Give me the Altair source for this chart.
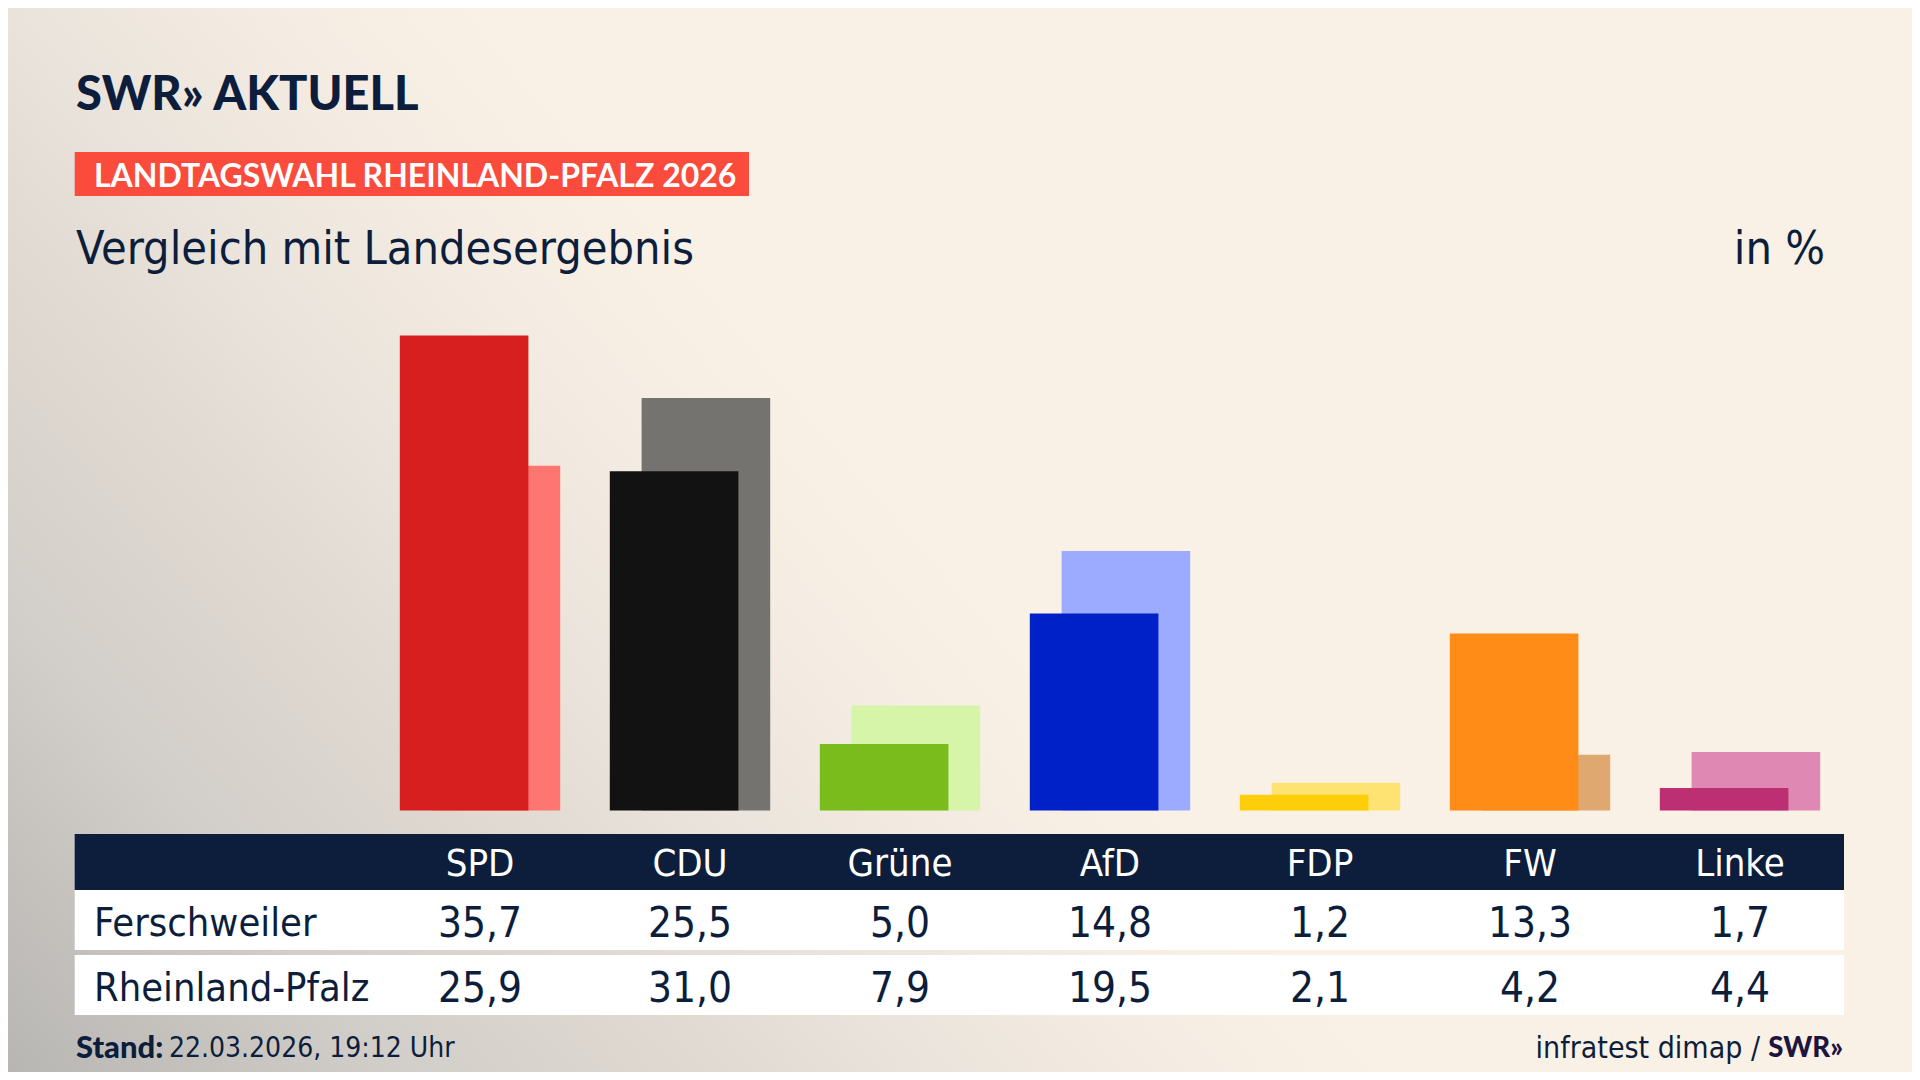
import altair as alt
import pandas as pd

# ---- data ----
parties = ["SPD", "CDU", "Grüne", "AfD", "FDP", "FW", "Linke"]
ferschweiler = [35.7, 25.5, 5.0, 14.8, 1.2, 13.3, 1.7]
rheinland_pfalz = [25.9, 31.0, 7.9, 19.5, 2.1, 4.2, 4.4]
dark_colors = ["#D71F1F", "#121212", "#79BC1C", "#0020C8", "#FFCE0A", "#FF8C16", "#BD2F73"]
light_colors = ["#FF7670", "#747370", "#D6F5A8", "#9CABFF", "#FFE372", "#DFA871", "#DF88B4"]
row_labels = ["Ferschweiler", "Rheinland-Pfalz"]

title_text = "SWR» AKTUELL"
banner_text = "LANDTAGSWAHL RHEINLAND-PFALZ 2026"
subtitle_text = "Vergleich mit Landesergebnis"
unit_text = "in %"
stand_label = "Stand:"
stand_text = "22.03.2026, 19:12 Uhr"
source_text = "infratest dimap /"
source_logo = "SWR»"


def de(v):
    return f"{v:.1f}".replace(".", ",")


df = pd.DataFrame({
    "party": parties,
    "fer": ferschweiler,
    "rlp": rheinland_pfalz,
    "fer_txt": [de(v) for v in ferschweiler],
    "rlp_txt": [de(v) for v in rheinland_pfalz],
    "dark": dark_colors,
    "light": light_colors,
})

FONT = "DejaVu Sans Condensed"
BOLD = "Lato"
NAVY = "#0C1E3C"
W, H = 1904, 1064

xscale = alt.Scale(domain=parties, range=[367, 1837], paddingInner=0, paddingOuter=0)
yscale = alt.Scale(domain=[0, 60], range=[802.6, 4])
X = alt.X("party:N", scale=xscale, axis=None)

base = alt.Chart(df)

# background
bg = alt.Chart(pd.DataFrame({"a": [0]})).mark_rect(
    color=alt.Gradient(
        gradient="linear",
        x1=0, y1=1, x2=0.9, y2=0.57,
        stops=[
            alt.GradientStop(color="#B8B6B3", offset=0),
            alt.GradientStop(color="#D2CEC9", offset=0.19),
            alt.GradientStop(color="#E2DBD3", offset=0.35),
            alt.GradientStop(color="#EAE3DB", offset=0.43),
            alt.GradientStop(color="#F4ECE2", offset=0.55),
            alt.GradientStop(color="#FAF1E6", offset=0.66),
            alt.GradientStop(color="#FAF1E6", offset=1),
        ],
    )
).encode(x=alt.value(0), x2=alt.value(W), y=alt.value(0), y2=alt.value(H))

light_bars = base.mark_bar(width=128.6, xOffset=15.9).encode(
    x=X, y=alt.Y("rlp:Q", scale=yscale, axis=None),
    color=alt.Color("light:N", scale=None),
)
dark_bars = base.mark_bar(width=128.6, xOffset=-15.9).encode(
    x=X, y=alt.Y("fer:Q", scale=yscale, axis=None),
    color=alt.Color("dark:N", scale=None),
)

# table frames
def box(x1, x2, y1, y2, color):
    return alt.Chart(pd.DataFrame({"a": [0]})).mark_rect(color=color).encode(
        x=alt.value(x1), x2=alt.value(x2), y=alt.value(y1), y2=alt.value(y2))

banner = box(66.7, 741, 144, 188, "#FA4B3C")
header = box(66.7, 1836, 826, 882, NAVY)
row1 = box(66.7, 1836, 882, 942, "#FFFFFF")
row2 = box(66.7, 1836, 947, 1007, "#FFFFFF")

def label(txt, x, y, size, weight="normal", color=NAVY, align="left", font=FONT):
    return alt.Chart(pd.DataFrame({"t": [txt]})).mark_text(
        font=font, fontSize=size, fontWeight=weight, color=color,
        align=align, baseline="middle").encode(
        x=alt.value(x), y=alt.value(y), text="t:N")

title = label(title_text, 68, 88, 47, 900, font=BOLD)
banner_lbl = label(banner_text, 86, 168.5, 32, "bold", "#FFFFFF", font=BOLD)
subtitle = label(subtitle_text, 68, 242, 46.5)
unit = label(unit_text, 1817, 242, 46.5, align="right")
rl1 = label(row_labels[0], 86, 915.5, 39.5)
rl2 = label(row_labels[1], 86, 980.5, 39.5)
st1 = label(stand_label, 68, 1041, 31, 900, font=BOLD)
st2 = label(stand_text, 161, 1041, 28)
src1 = label(source_text, 1752, 1041, 30, align="right")
src2 = label(source_logo, 1835, 1041, 27.5, 900, "#1E1440", align="right", font=BOLD)

head_txt = base.mark_text(font=FONT, fontSize=38, color="#FFFFFF", baseline="middle").encode(
    x=X, y=alt.value(856.5), text="party:N")
v1 = base.mark_text(font=FONT, fontSize=42, color=NAVY, baseline="middle").encode(
    x=X, y=alt.value(915.5), text="fer_txt:N")
v2 = base.mark_text(font=FONT, fontSize=42, color=NAVY, baseline="middle").encode(
    x=X, y=alt.value(980.5), text="rlp_txt:N")

chart = alt.layer(
    bg, light_bars, dark_bars, banner, header, row1, row2,
    title, banner_lbl, subtitle, unit, head_txt, rl1, rl2, v1, v2, st1, st2, src1, src2,
).properties(
    width=W, height=H, padding=0, autosize=alt.AutoSizeParams(type="none")
).configure_view(strokeWidth=0).configure(background="#FAF1E6")

chart.save("out.html", embed_options={"renderer": "svg", "actions": False})
